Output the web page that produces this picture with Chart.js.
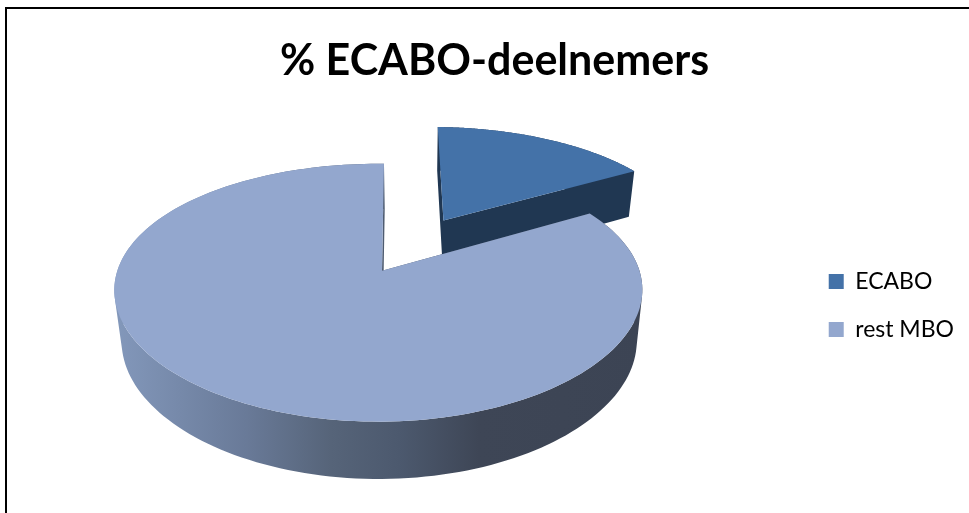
<!DOCTYPE html>
<html>
<head>
<meta charset="utf-8">
<title>% ECABO-deelnemers</title>
<script src="https://cdn.jsdelivr.net/npm/chart.js@4/dist/chart.umd.min.js"></script>
<style>
    html, body { margin: 0; padding: 0; background: #fff; overflow: hidden; }
    #wrap { position: relative; width: 969px; height: 513px; }
    #frame { position: absolute; left: 5px; top: 7px; right: 0; bottom: 0; border-left: 2px solid #000; border-top: 2px solid #000; }
    canvas { position: absolute; left: 0; top: 0; }
</style>
</head>
<body>
<div id="wrap">
    <div id="frame"></div>
    <canvas id="myChart" width="969" height="513"></canvas>
</div>
<script>
    const chartTitle = '% ECABO-deelnemers';
    const categories = ['ECABO', 'rest MBO'];
    const shares = [16.5, 83.5];
    const explosion = [0.5, 0];

    // look of the 3D pie: view of the top and bottom plane of the disc
    const topPlane = { x0: 382, y0: 270.7, c: 261, a: 125.2 };
    const bottomPlane = { x0: 382.8, y0: 321, c: 254.6, a: 131 };
    const tiltV = 0.1705;
    const tiltX = 0.15;
    const tiltU = 0.0138;

    function project(u, v, plane) {
        const wx = 1 - tiltX * v + tiltU * u;
        const wy = 1 - tiltV * v + tiltU * u;
        return { x: plane.x0 + plane.c * u / wx, y: plane.y0 + plane.a * v / wy };
    }

    // outline of a slice in disc coordinates (radius 1), apex first
    function outline(arc, explode) {
        const mid = (arc.startAngle + arc.endAngle) / 2;
        const ox = Math.cos(mid) * explode;
        const oy = Math.sin(mid) * explode;
        const pts = [[ox, oy]];
        const steps = 180;
        for (let i = 0; i <= steps; i++) {
            const a = arc.startAngle + (arc.endAngle - arc.startAngle) * i / steps;
            pts.push([ox + Math.cos(a), oy + Math.sin(a)]);
        }
        return pts;
    }

    function wallFill(ctx, index) {
        if (index === 0) return '#203752';
        const g = ctx.createLinearGradient(114, 0, 643, 0);
        g.addColorStop(0, '#8398bb');
        g.addColorStop(0.25, '#697a98');
        g.addColorStop(0.41, '#566479');
        g.addColorStop(0.54, '#4c596e');
        g.addColorStop(0.69, '#3e4656');
        g.addColorStop(1, '#3c4454');
        return g;
    }

    // adds a quad to the current path, always wound the same way so that
    // overlapping quads don't cancel each other out
    function addQuad(ctx, q) {
        let area = 0;
        for (let i = 0; i < 4; i++) {
            const n = q[(i + 1) % 4];
            area += q[i].x * n.y - n.x * q[i].y;
        }
        const pts = area < 0 ? q.slice().reverse() : q;
        ctx.moveTo(pts[0].x, pts[0].y);
        ctx.lineTo(pts[1].x, pts[1].y);
        ctx.lineTo(pts[2].x, pts[2].y);
        ctx.lineTo(pts[3].x, pts[3].y);
        ctx.closePath();
    }

    const pie3d = {
        id: 'pie3d',
        beforeDatasetsDraw(chart) {
            const ctx = chart.ctx;
            const meta = chart.getDatasetMeta(0);
            meta.data.forEach(function (arc, index) {
                const pts = outline(arc, explosion[index]);
                const top = pts.map(function (p) { return project(p[0], p[1], topPlane); });
                const bottom = pts.map(function (p) { return project(p[0], p[1], bottomPlane); });
                ctx.save();
                // side walls, all quads in one path so no seams show
                ctx.fillStyle = wallFill(ctx, index);
                ctx.beginPath();
                for (let i = 0; i < pts.length; i++) {
                    const j = (i + 1) % pts.length;
                    addQuad(ctx, [top[i], top[j], bottom[j], bottom[i]]);
                }
                ctx.fill();
                // top surface
                ctx.fillStyle = arc.options.backgroundColor;
                ctx.beginPath();
                top.forEach(function (s, i) {
                    if (i === 0) ctx.moveTo(s.x, s.y);
                    else ctx.lineTo(s.x, s.y);
                });
                ctx.closePath();
                ctx.fill();
                ctx.restore();
            });
            return false;
        }
    };

    var ctx = document.getElementById('myChart').getContext('2d');
    var chart = new Chart(ctx, {
        type: 'pie',
        data: {
            labels: categories,
            datasets: [{
                data: shares,
                backgroundColor: ['#4472a8', '#93a7ce'],
                borderWidth: 0
            }]
        },
        options: {
            responsive: false,
            animation: false,
            rotation: 0.5,
            layout: { padding: { left: 25, right: 5, top: 0, bottom: 147 } },
            plugins: {
                title: {
                    display: true,
                    text: chartTitle,
                    color: '#000',
                    font: { family: 'Lato', size: 43, weight: 'bold' },
                    padding: { top: 35, bottom: 20 }
                },
                legend: {
                    position: 'right',
                    align: 'end',
                    labels: {
                        color: '#000',
                        font: { family: 'Lato', size: 23 },
                        boxWidth: 15,
                        boxHeight: 15,
                        padding: 25
                    }
                },
                tooltip: { enabled: false }
            }
        },
        plugins: [pie3d]
    });
</script>
</body>
</html>
